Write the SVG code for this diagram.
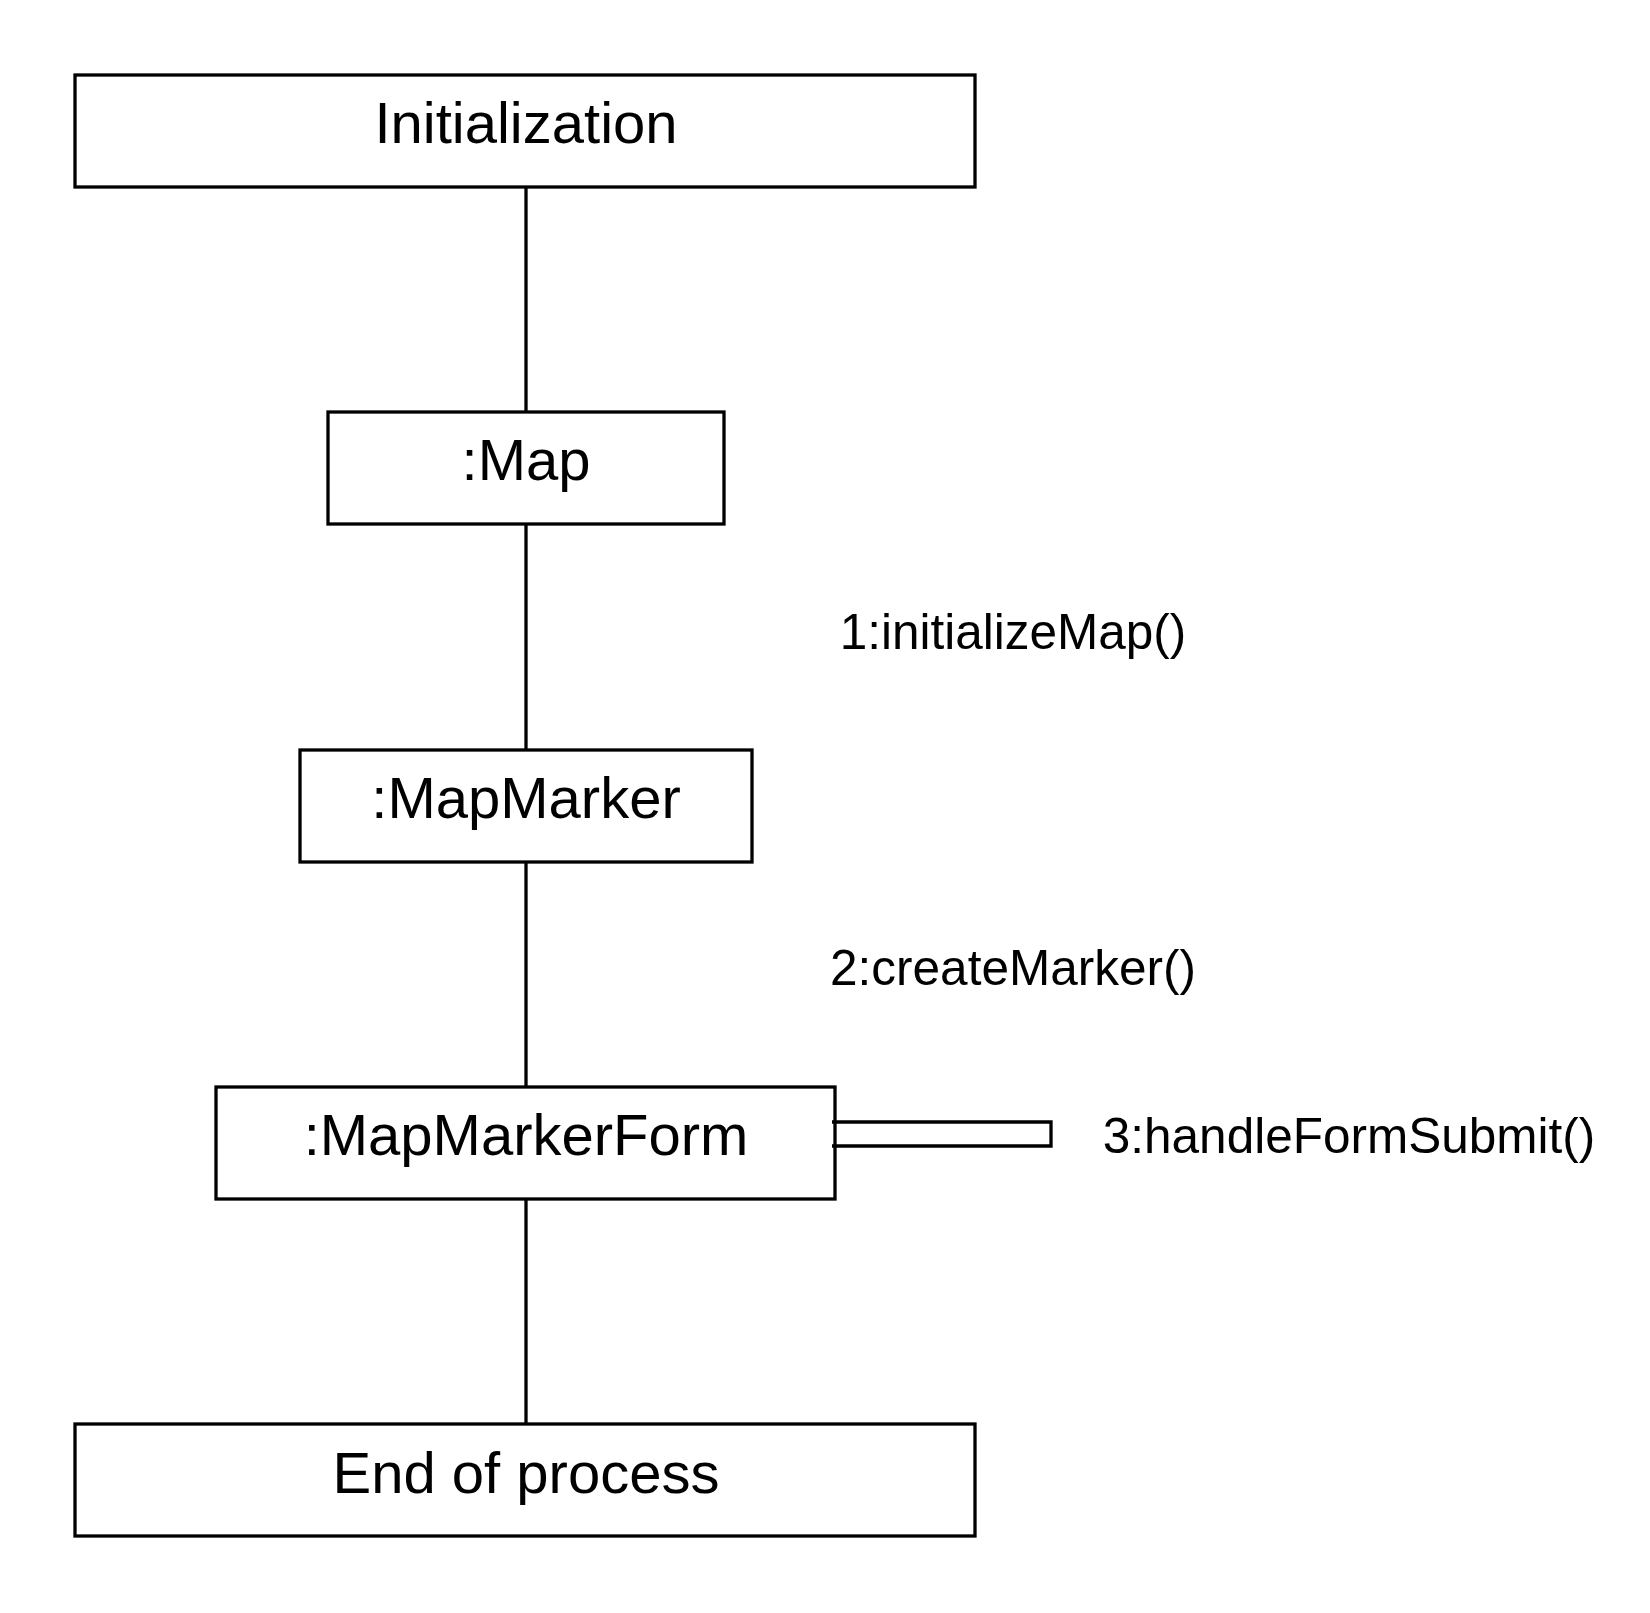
<svg xmlns="http://www.w3.org/2000/svg" width="1650" height="1613" viewBox="0 0 1650 1613">
<style>
.box{fill:#fff;stroke:#000;stroke-width:3.3}
.ln{fill:none;stroke:#000;stroke-width:3.3}
.t{font-family:"Liberation Sans",Arial,sans-serif;font-size:58px;fill:#000;text-anchor:middle}
.l{font-family:"Liberation Sans",Arial,sans-serif;font-size:49.5px;fill:#000;text-anchor:middle}
</style>
<rect width="1650" height="1613" fill="#fff"/>
<g id="connectors">
<line class="ln" x1="526" y1="185" x2="526" y2="412"/>
<line class="ln" x1="526" y1="524" x2="526" y2="750"/>
<line class="ln" x1="526" y1="862" x2="526" y2="1087"/>
<line class="ln" x1="526" y1="1199" x2="526" y2="1430"/>
</g>
<g id="initialization">
<rect class="box" x="75" y="75" width="900" height="112"/>
<text class="t" x="526" y="143">Initialization</text>
</g>
<g id="map">
<rect class="box" x="328" y="412" width="396" height="112"/>
<text class="t" x="526" y="480">:Map</text>
</g>
<g id="mapmarker">
<rect class="box" x="300" y="750" width="452" height="112"/>
<text class="t" x="526" y="818">:MapMarker</text>
</g>
<g id="mapmarkerform">
<rect class="box" x="216" y="1087" width="619" height="112"/>
<text class="t" x="526" y="1155">:MapMarkerForm</text>
</g>
<g id="selfloop">
<path class="ln" d="M832 1122 H1051 V1146 H832"/>
</g>
<g id="end">
<rect class="box" x="75" y="1424" width="900" height="112"/>
<text class="t" x="526" y="1493">End of process</text>
</g>
<g id="labels">
<text class="l" x="1013" y="649">1:initializeMap()</text>
<text class="l" x="1013" y="985">2:createMarker()</text>
<text class="l" x="1349" y="1153">3:handleFormSubmit()</text>
</g>
</svg>
